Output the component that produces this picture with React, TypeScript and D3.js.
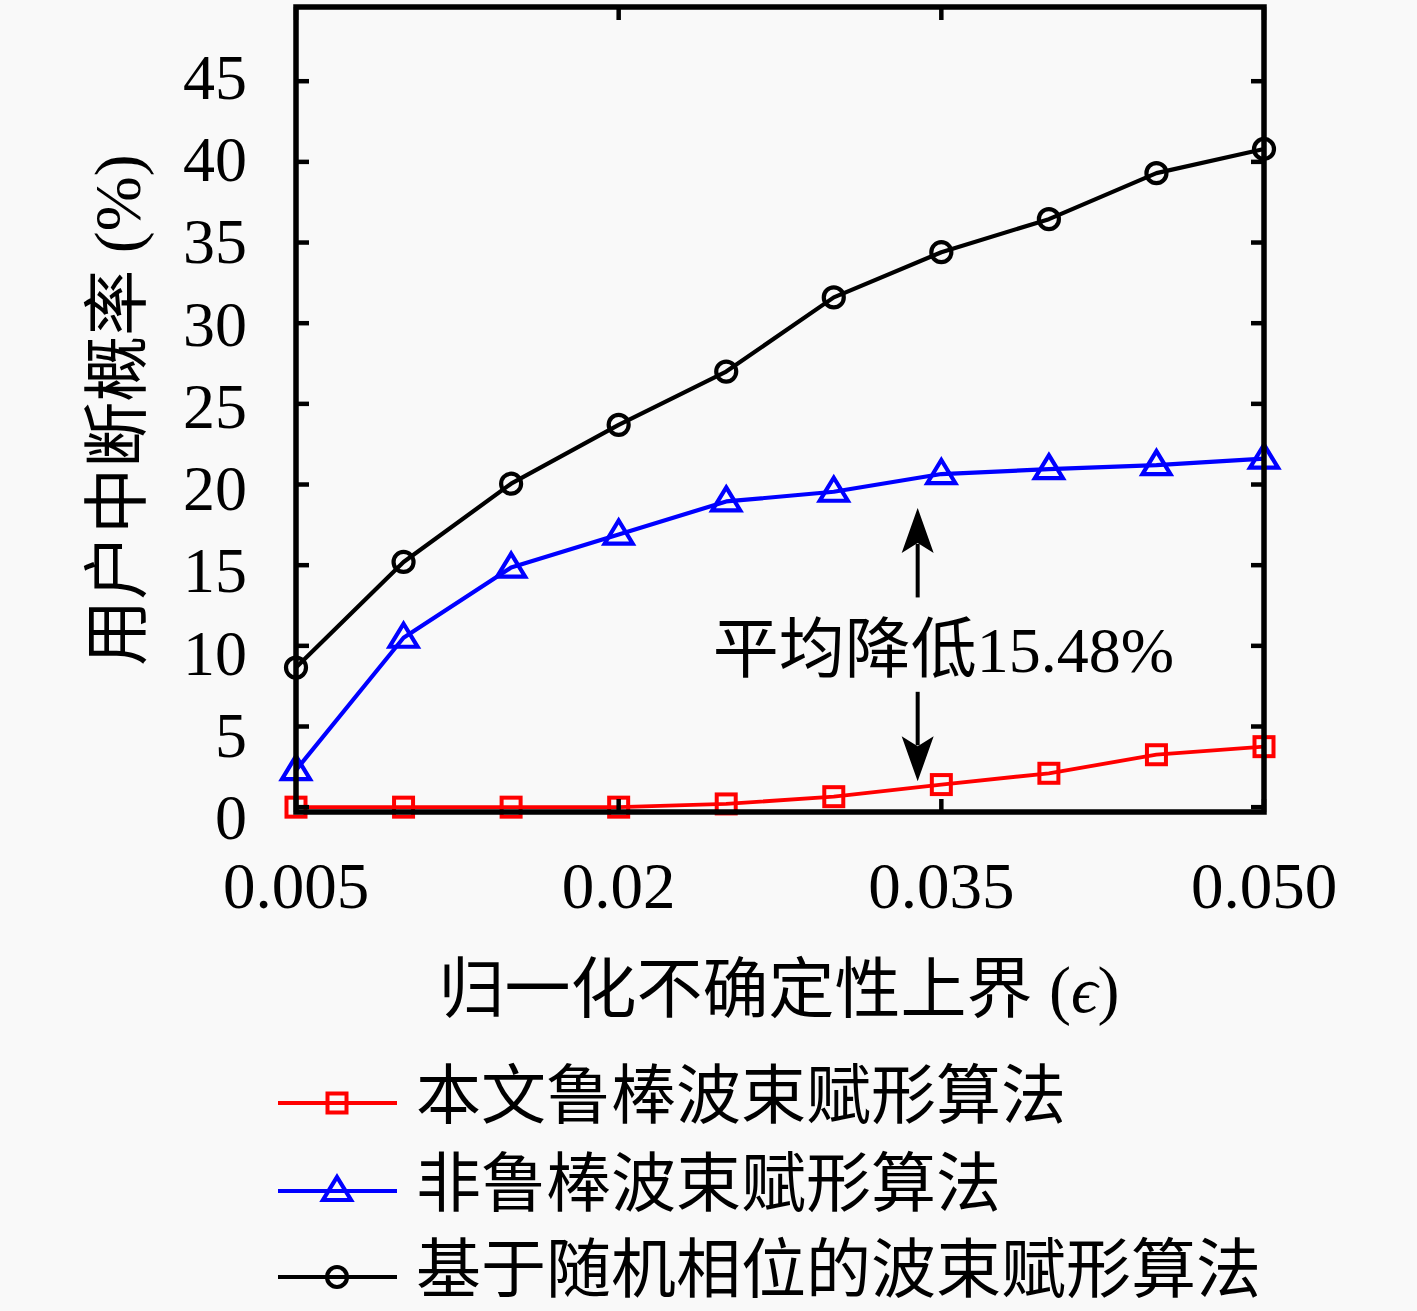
import { useRef, useEffect } from "react";
import * as d3 from "d3";

const X_VALUES = [0.005, 0.01, 0.015, 0.02, 0.025, 0.03, 0.035, 0.04, 0.045, 0.05];
const PROPOSED = [0, 0, 0, 0, 0.2, 0.65, 1.4, 2.1, 3.25, 3.75];
const NON_ROBUST = [2.3, 10.5, 14.85, 16.9, 18.95, 19.55, 20.65, 20.95, 21.2, 21.6];
const RANDOM_PHASE = [8.65, 15.2, 20.05, 23.7, 27.0, 31.6, 34.4, 36.45, 39.3, 40.8];

const SERIES_NAMES = ["本文鲁棒波束赋形算法", "非鲁棒波束赋形算法", "基于随机相位的波束赋形算法"];

const Y_TICKS = [0, 5, 10, 15, 20, 25, 30, 35, 40, 45];
const X_TICKS = [0.005, 0.02, 0.035, 0.05];
const X_TICK_LABELS = ["0.005", "0.02", "0.035", "0.050"];

// annotation: arrows between the blue and red curves
const ANNOT_X = 0.0339;
const ARROW_UP = [13.0, 18.55];
const ARROW_DOWN = [7.15, 1.6];
const ANNOT_TEXT_X = 0.0351;
const ANNOT_TEXT_Y = 8.4;

const W = 1417;
const H = 1311;
const CJK = "'Noto Sans CJK SC', 'Noto Sans CJK JP', sans-serif";
const SERIF = "'Liberation Serif', 'DejaVu Serif', serif";

export default function App() {
  const svgRef = useRef<SVGSVGElement>(null);

  useEffect(() => {
    if (!svgRef.current) return;
    const svg = d3.select(svgRef.current);
    svg.selectAll("*").remove();

    const margin = { top: 7, left: 296, right: W - 1264, bottom: H - 812 };
    const width = W - margin.left - margin.right;
    const height = H - margin.top - margin.bottom;

    svg.append("rect").attr("width", W).attr("height", H).attr("fill", "#f9f9f9");

    const g = svg.append("g").attr("transform", `translate(${margin.left},${margin.top})`);

    const x = d3.scaleLinear().domain([0.005, 0.05]).range([0, width]);
    const y = d3.scaleLinear().domain([-0.3, 49.6]).range([height, 0]);
    // tick labels in the original sit on a slightly wider spacing than the ticks
    const yLabel = d3.scaleLinear().domain([0, 45]).range([818 - margin.top, 78 - margin.top]);

    const series = [
      { values: PROPOSED, color: "#ff0000", marker: "square", width: 3.8 },
      { values: NON_ROBUST, color: "#0000ff", marker: "triangle", width: 4.2 },
      { values: RANDOM_PHASE, color: "#000000", marker: "circle", width: 4.2 },
    ];

    const drawMarker = (sel: d3.Selection<SVGGElement, unknown, null, undefined>, kind: string, color: string, cx: number, cy: number) => {
      if (kind === "square") {
        sel.append("rect")
          .attr("x", cx - 9.5).attr("y", cy - 9.5)
          .attr("width", 19).attr("height", 19)
          .attr("fill", "none").attr("stroke", color).attr("stroke-width", 4);
      } else if (kind === "triangle") {
        sel.append("path")
          .attr("d", `M${cx},${cy - 14}L${cx + 14},${cy + 9}L${cx - 14},${cy + 9}Z`)
          .attr("fill", "none").attr("stroke", color).attr("stroke-width", 4.2);
      } else {
        sel.append("circle")
          .attr("cx", cx).attr("cy", cy).attr("r", 10)
          .attr("fill", "none").attr("stroke", color).attr("stroke-width", 4.2);
      }
    };

    // Data lines
    series.forEach((s) => {
      const line = d3.line<number>()
        .x((_, i) => x(X_VALUES[i]))
        .y((d) => y(d));
      g.append("path")
        .datum(s.values)
        .attr("fill", "none")
        .attr("stroke", s.color)
        .attr("stroke-width", s.width)
        .attr("stroke-linejoin", "round")
        .attr("d", line);
    });
    series.forEach((s) => {
      const mg = g.append("g");
      s.values.forEach((v, i) => drawMarker(mg, s.marker, s.color, x(X_VALUES[i]), y(v)));
    });

    // Frame and inward ticks
    const tickLen = 13;
    const axis = g.append("g").attr("stroke", "#000").attr("stroke-width", 4.5);
    Y_TICKS.forEach((t) => {
      axis.append("line").attr("x1", 0).attr("x2", tickLen).attr("y1", y(t)).attr("y2", y(t));
      axis.append("line").attr("x1", width).attr("x2", width - tickLen).attr("y1", y(t)).attr("y2", y(t));
    });
    X_TICKS.forEach((t) => {
      axis.append("line").attr("x1", x(t)).attr("x2", x(t)).attr("y1", height).attr("y2", height - tickLen);
      axis.append("line").attr("x1", x(t)).attr("x2", x(t)).attr("y1", 0).attr("y2", tickLen);
    });
    axis.append("rect")
      .attr("x", 0).attr("y", 0).attr("width", width).attr("height", height)
      .attr("fill", "none").attr("stroke-width", 5.5);

    // Tick labels
    Y_TICKS.forEach((t) => {
      g.append("text")
        .attr("x", -49).attr("y", yLabel(t) + 21)
        .attr("text-anchor", "end")
        .attr("font-family", SERIF).attr("font-size", 64)
        .text(String(t));
    });
    X_TICKS.forEach((t, i) => {
      g.append("text")
        .attr("x", x(t)).attr("y", 908 - margin.top)
        .attr("text-anchor", "middle")
        .attr("font-family", SERIF).attr("font-size", 65)
        .text(X_TICK_LABELS[i]);
    });

    // Axis titles
    const xl = svg.append("text")
      .attr("x", 779).attr("y", 1012)
      .attr("text-anchor", "middle").attr("font-size", 66);
    xl.append("tspan").attr("font-family", CJK).text("归一化不确定性上界");
    xl.append("tspan").attr("font-family", SERIF).text(" (");
    xl.append("tspan").attr("font-family", SERIF).attr("font-style", "italic").text("ϵ");
    xl.append("tspan").attr("font-family", SERIF).text(")");

    const yl = svg.append("text")
      .attr("transform", "translate(140,410) rotate(-90)")
      .attr("text-anchor", "middle").attr("font-size", 66);
    yl.append("tspan").attr("font-family", CJK).text("用户中断概率");
    yl.append("tspan").attr("font-family", SERIF).text(" (%)");

    // Annotation arrows
    const arrow = (from: number, to: number) => {
      const ax = x(ANNOT_X);
      const y0 = y(from);
      const y1 = y(to);
      const dir = y1 < y0 ? 1 : -1;
      const headL = 45;
      const headW = 16;
      g.append("line")
        .attr("x1", ax).attr("x2", ax)
        .attr("y1", y0).attr("y2", y1 + dir * headL * 0.8)
        .attr("stroke", "#000").attr("stroke-width", 4);
      g.append("path")
        .attr("d", `M${ax},${y1}L${ax + headW},${y1 + dir * headL}L${ax},${y1 + dir * headL * 0.78}L${ax - headW},${y1 + dir * headL}Z`)
        .attr("fill", "#000");
    };
    arrow(ARROW_UP[0], ARROW_UP[1]);
    arrow(ARROW_DOWN[0], ARROW_DOWN[1]);

    const at = g.append("text")
      .attr("x", x(ANNOT_TEXT_X)).attr("y", y(ANNOT_TEXT_Y))
      .attr("text-anchor", "middle").attr("font-size", 66);
    at.append("tspan").attr("font-family", CJK).text("平均降低");
    at.append("tspan").attr("font-family", SERIF).attr("font-size", 64).text("15.48%");

    // Legend
    const rows = [1103, 1191, 1277];
    series.forEach((s, i) => {
      const lg = svg.append("g");
      lg.append("line")
        .attr("x1", 278).attr("x2", 397).attr("y1", rows[i]).attr("y2", rows[i])
        .attr("stroke", s.color).attr("stroke-width", s.width);
      drawMarker(lg, s.marker, s.color, 337, rows[i]);
      lg.append("text")
        .attr("x", 416).attr("y", rows[i] + 15)
        .attr("font-family", CJK).attr("font-size", 65)
        .text(SERIES_NAMES[i]);
    });
  }, []);

  return (
    <svg
      ref={svgRef}
      width={W}
      height={H}
      style={{ position: "absolute", left: 0, top: 0, display: "block" }}
    />
  );
}
